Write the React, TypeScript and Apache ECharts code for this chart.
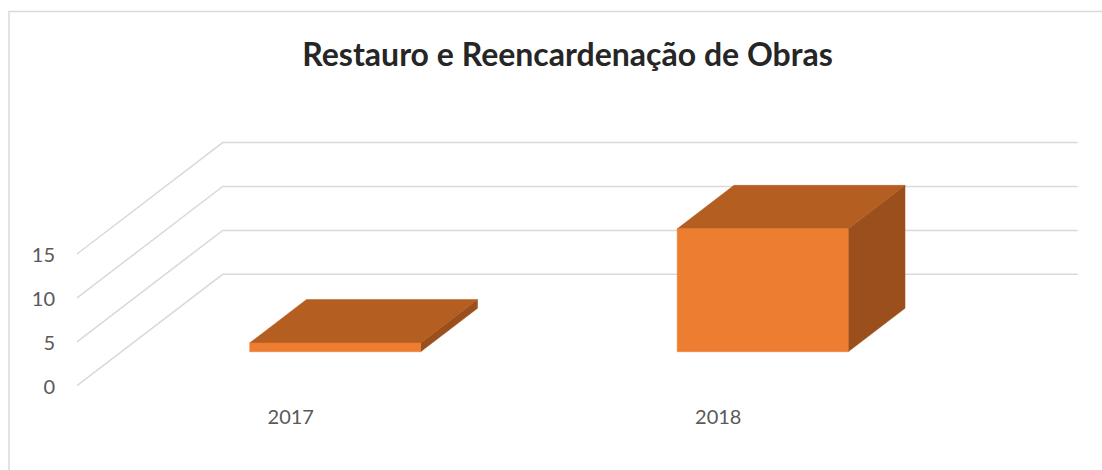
import React, { useEffect, useRef } from "react";
import * as echarts from "echarts";

const categories = ["2017", "2018"];
const values = [1, 14];
const yTicks = [0, 5, 10, 15];
const titleText = "Restauro e Reencardenação de Obras";

const DX = 145.7;
const DY = -111.4;
const BAR_FRONT = 0.305;
const BAR_DEPTH = 0.39;
const BAR_WIDTH = 0.4;

export default function App() {
  const ref = useRef<HTMLDivElement>(null);
  useEffect(() => {
    document.body.style.margin = "0";
    const chart = echarts.init(ref.current!, null, { renderer: "svg" });
    const gridSeries = {
      type: "custom",
      z: 1,
      silent: true,
      data: yTicks.map((v) => [0, v]),
      renderItem: (params: any, api: any) => {
        const cs = params.coordSys;
        const y = api.coord([0, api.value(1)])[1];
        const x0 = cs.x;
        return {
          type: "polyline",
          shape: {
            points: [
              [x0, y],
              [x0 + DX, y + DY],
              [x0 + cs.width + DX, y + DY],
            ],
          },
          style: { stroke: "#d9d9d9", lineWidth: 1.5, fill: "none" },
        };
      },
    };
    const barSeries = {
      type: "custom",
      z: 2,
      data: values.map((v, i) => [i, v]),
      renderItem: (params: any, api: any) => {
        const i = api.value(0);
        const v = api.value(1);
        const base = api.coord([i, 0]);
        const top = api.coord([i, v]);
        const band = api.size([1, 0])[0];
        const w = band * BAR_WIDTH;
        const fx = BAR_FRONT * DX;
        const fy = BAR_FRONT * DY;
        const bx = BAR_DEPTH * DX;
        const by = BAR_DEPTH * DY;
        const xl = base[0] - w / 2 + fx;
        const xr = base[0] + w / 2 + fx;
        const yb = base[1] + fy;
        const yt = top[1] + fy;
        return {
          type: "group",
          children: [
            {
              type: "polygon",
              shape: { points: [[xr, yt], [xr + bx, yt + by], [xr + bx, yb + by], [xr, yb]] },
              style: { fill: "#9b4f1c", stroke: "#9b4f1c", lineWidth: 0.5 },
            },
            {
              type: "polygon",
              shape: { points: [[xl, yt], [xr, yt], [xr + bx, yt + by], [xl + bx, yt + by]] },
              style: { fill: "#b45e21", stroke: "#b45e21", lineWidth: 0.5 },
            },
            {
              type: "polygon",
              shape: { points: [[xl, yt], [xr, yt], [xr, yb], [xl, yb]] },
              style: { fill: "#ed7d31", stroke: "#ed7d31", lineWidth: 0.5 },
            },
          ],
        };
      },
    };
    chart.setOption({
      animation: false,
      backgroundColor: "#ffffff",
      title: {
        text: titleText,
        left: 562.5,
        top: 32,
        textAlign: "center",
        textStyle: { fontFamily: "Lato", fontWeight: "bold", fontSize: 32, color: "#262626" },
      },
      graphic: [
        {
          type: "rect",
          silent: true,
          shape: { x: 9, y: 11.5, width: 1300, height: 700 },
          style: { fill: "none", stroke: "#d9d9d9", lineWidth: 1.5 },
        },
      ],
      grid: { left: 77, right: 170, top: 254, bottom: 84.3, containLabel: false },
      xAxis: {
        type: "category",
        data: categories,
        axisLine: { show: false },
        axisTick: { show: false },
        splitLine: { show: false },
        axisLabel: { fontFamily: "Lato", fontSize: 20, color: "#595959", margin: 20 },
      },
      yAxis: {
        type: "value",
        min: 0,
        max: 15,
        interval: 5,
        axisLine: { show: false },
        axisTick: { show: false },
        splitLine: { show: false },
        axisLabel: { fontFamily: "Lato", fontSize: 20, color: "#595959", margin: 22 },
      },
      series: [gridSeries, barSeries],
    });
    return () => chart.dispose();
  }, []);
  return <div ref={ref} style={{ width: 1102, height: 470 }} />;
}
